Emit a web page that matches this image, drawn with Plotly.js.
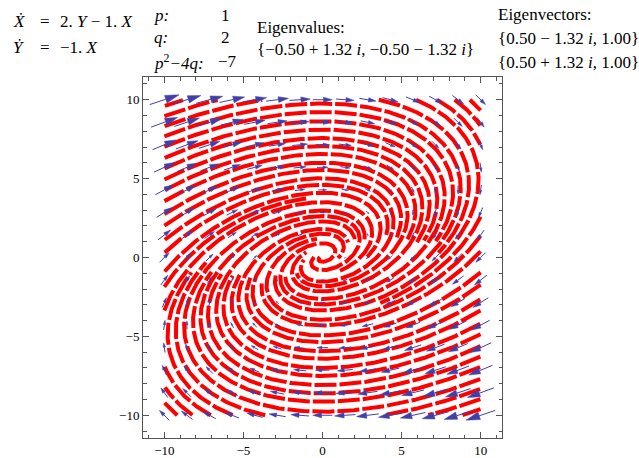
<!DOCTYPE html>
<html><head><meta charset="utf-8">
<script src="https://cdn.plot.ly/plotly-3.0.1.min.js"></script>
<style>html,body{margin:0;padding:0;background:#fff}#chart{width:639px;height:458px}</style>
</head><body><div id="chart"></div>
<script>
// Linear system shown in the chart:  X' = 2Y - 1X ,  Y' = -1X
const rowXdot = [-1, 2];   // coefficients of X, Y in X'
const rowYdot = [-1, 0];   // coefficients of X, Y in Y'
// vector field sample grid (15 x 15 over [-10, 10])
const gridVals = [-10, -8.5714, -7.1429, -5.7143, -4.2857, -2.8571, -1.4286, 0, 1.4286, 2.8571, 4.2857, 5.7143, 7.1429, 8.5714, 10];
const fieldRange = [-10, 10];
// text
const eqLeft = ['<i>\u1E8A</i>', '<i>\u1E8E</i>'];
const eqRight = ['2. <i>Y</i> \u2212 1. <i>X</i>', '\u22121. <i>X</i>'];
const paramNames = ['<i>p:</i>', '<i>q:</i>', '<i>p</i><sup>2</sup><i>\u22124q:</i>'];
const paramValues = ['1', '2', '\u22127'];
const eigenvalueTitle = 'Eigenvalues:';
const eigenvalueText = '{\u22120.50 + 1.32 <i>i</i>, \u22120.50 \u2212 1.32 <i>i</i>}';
const eigenvectorTitle = 'Eigenvectors:';
const eigenvectorTexts = ['{0.50 \u2212 1.32 <i>i</i>, 1.00}', '{0.50 + 1.32 <i>i</i>, 1.00}'];

// ---------- field ----------
function vel(x, y) { return [rowXdot[0]*x + rowXdot[1]*y, rowYdot[0]*x + rowYdot[1]*y]; }
function unitDir(x, y, s) {
  const v = vel(x, y); const m = Math.hypot(v[0], v[1]);
  if (m < 1e-12) return null; return [s*v[0]/m, s*v[1]/m];
}
function rk(x, y, s, h) {
  const k1 = unitDir(x, y, s); if (!k1) return null;
  const k2 = unitDir(x + h/2*k1[0], y + h/2*k1[1], s); if (!k2) return null;
  const k3 = unitDir(x + h/2*k2[0], y + h/2*k2[1], s); if (!k3) return null;
  const k4 = unitDir(x + h*k3[0], y + h*k3[1], s); if (!k4) return null;
  return [x + h/6*(k1[0]+2*k2[0]+2*k3[0]+k4[0]), y + h/6*(k1[1]+2*k2[1]+2*k3[1]+k4[1])];
}

// ---------- evenly spaced streamlines ----------
const LO = fieldRange[0], HI = fieldRange[1];
const dsep = 0.6, dtest = 0.3, h = 0.04, rmin = 0.12;
const skip = Math.ceil(3*dtest/h);
const cs = dsep;
const cells = new Map();
function ck(i, j) { return i*10000 + j; }
function addPt(x, y, line, idx) {
  const k = ck(Math.floor((x-LO)/cs), Math.floor((y-LO)/cs));
  if (!cells.has(k)) cells.set(k, []);
  cells.get(k).push([x, y, line, idx]);
}
function tooClose(x, y, d, line, idx) {
  const i = Math.floor((x-LO)/cs), j = Math.floor((y-LO)/cs);
  for (let di = -1; di <= 1; di++) for (let dj = -1; dj <= 1; dj++) {
    const c = cells.get(ck(i+di, j+dj)); if (!c) continue;
    for (const p of c) {
      if (p[2] === line && Math.abs(p[3]-idx) < skip) continue;
      const dx = p[0]-x, dy = p[1]-y;
      if (dx*dx + dy*dy < d*d) return true;
    }
  }
  return false;
}
function traceLine(sx, sy, id) {
  const fw = [], bw = [];
  addPt(sx, sy, id, 0);
  for (const [s, arr] of [[1, fw], [-1, bw]]) {
    let x = sx, y = sy, k = 0;
    for (let n = 0; n < 8000; n++) {
      const p = rk(x, y, s, h); if (!p) break;
      x = p[0]; y = p[1]; k++;
      if (x < LO || x > HI || y < LO || y > HI) break;
      if (Math.hypot(x, y) < rmin) break;
      if (tooClose(x, y, dtest, id, s*k)) break;
      arr.push([x, y]); addPt(x, y, id, s*k);
    }
  }
  return bw.reverse().concat([[sx, sy]], fw);
}
const lines = [], queue = [];
function tryLine(sx, sy) {
  if (sx < LO || sx > HI || sy < LO || sy > HI) return;
  if (Math.hypot(sx, sy) < 2*rmin) return;
  if (tooClose(sx, sy, dsep*0.95, -1, 0)) return;
  const id = lines.length;
  lines.push(traceLine(sx, sy, id)); queue.push(id);
}
function drain() {
  while (queue.length) {
    const pts = lines[queue.shift()];
    for (let n = 0; n < pts.length; n += 2) {
      const d = unitDir(pts[n][0], pts[n][1], 1); if (!d) continue;
      tryLine(pts[n][0] - d[1]*dsep, pts[n][1] + d[0]*dsep);
      tryLine(pts[n][0] + d[1]*dsep, pts[n][1] - d[0]*dsep);
    }
  }
}
tryLine(-9.7, 9.7); drain();
for (let gx = LO + 0.25; gx < HI; gx += 0.5) for (let gy = LO + 0.25; gy < HI; gy += 0.5) { tryLine(gx, gy); drain(); }

const sx = [], sy = [];
for (const L of lines) {
  if (L.length < 6) continue;
  for (let n = 0; n < L.length; n += 2) { sx.push(L[n][0]); sy.push(L[n][1]); }
  sx.push(null); sy.push(null);
}

// ---------- vector arrows ----------
let maxMag = 0;
for (const gx of gridVals) for (const gy of gridVals) { const v = vel(gx, gy); maxMag = Math.max(maxMag, Math.hypot(v[0], v[1])); }
const Lmax = 1.95;
const ax = [], ay = [], hx = [], hy = [];
for (const gx of gridVals) for (const gy of gridVals) {
  const v = vel(gx, gy); const m = Math.hypot(v[0], v[1]); if (m < 1e-9) continue;
  const L = Lmax*m/maxMag; const dx = v[0]/m, dy = v[1]/m;
  const x0 = gx - dx*L/2, y0 = gy - dy*L/2, x1 = gx + dx*L/2, y1 = gy + dy*L/2;
  const hl = 0.45*L, hw = 0.13*L;
  const bx = x1 - dx*hl, by = y1 - dy*hl;
  ax.push(x0, bx, null); ay.push(y0, by, null);
  hx.push(x1, bx - dy*hw, bx + dy*hw, x1, null);
  hy.push(y1, by + dx*hw, by - dx*hw, y1, null);
}
const blue = 'rgb(64,64,168)';
const traces = [
  {x: sx, y: sy, mode: 'lines', type: 'scatter', hoverinfo: 'skip',
   line: {color: 'rgb(255,0,0)', width: 4, dash: '22px,3px'}},
  {x: ax, y: ay, mode: 'lines', type: 'scatter', hoverinfo: 'skip', line: {color: blue, width: 1}},
  {x: hx, y: hy, mode: 'lines', type: 'scatter', hoverinfo: 'skip', fill: 'toself', fillcolor: blue, line: {color: blue, width: 0.5}}
];

// ---------- text annotations (pixel placement) ----------
const M = {l: 143, r: 137, t: 77, b: 20}, W = 639, H = 458;
const pw = W - M.l - M.r, ph = H - M.t - M.b;
const FS = 17, FF = 'Liberation Serif, Times New Roman, serif';
function ann(px, base, text, anchor) {
  return {xref: 'paper', yref: 'paper', x: (px - M.l)/pw, y: (H - M.b - (base - 0.32*FS))/ph,
          xanchor: anchor || 'left', yanchor: 'middle', text: text, showarrow: false,
          font: {family: FF, size: FS, color: '#000'}, borderpad: 0};
}
const anns = [
  ann(12, 27, eqLeft[0]), ann(45, 27, '=', 'center'), ann(59, 27, eqRight[0]),
  ann(12, 53, eqLeft[1]), ann(45, 53, '=', 'center'), ann(59, 53, eqRight[1]),
  ann(153, 21, paramNames[0]), ann(225, 21, paramValues[0], 'center'),
  ann(153, 43, paramNames[1]), ann(225, 43, paramValues[1], 'center'),
  ann(153, 67, paramNames[2]), ann(217, 67, paramValues[2]),
  ann(256, 33, eigenvalueTitle), ann(256, 55, eigenvalueText),
  ann(497, 20, eigenvectorTitle), ann(497, 44, eigenvectorTexts[0]), ann(497, 68, eigenvectorTexts[1])
];

const axisCommon = {
  ticks: 'inside', ticklen: 6, tickwidth: 1, tickcolor: '#555', showline: true, linecolor: '#555', linewidth: 1,
  mirror: 'allticks', zeroline: false, showgrid: false, tick0: 0, dtick: 5,
  minor: {dtick: 1, ticks: 'inside', ticklen: 3.5, tickcolor: '#555', tickwidth: 1, showgrid: false},
  tickfont: {family: FF, size: 13, color: '#000'}
};
const layout = {
  width: W, height: H, margin: M, showlegend: false,
  paper_bgcolor: '#fff', plot_bgcolor: '#fff',
  xaxis: Object.assign({range: [-11.35, 11.35]}, axisCommon),
  yaxis: Object.assign({range: [-11.44, 11.44]}, axisCommon),
  annotations: anns
};
Plotly.newPlot('chart', traces, layout, {staticPlot: true, displayModeBar: false});
</script></body></html>
